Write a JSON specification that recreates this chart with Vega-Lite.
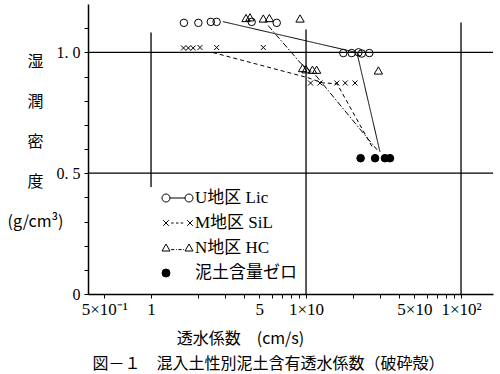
{
  "$schema": "https://vega.github.io/schema/vega-lite/v6.json",
  "width": 405,
  "height": 290,
  "autosize": {"type": "none"},
  "padding": {"left": 88, "top": 4, "right": 7, "bottom": 80},
  "background": "white",
  "title": {
    "text": "図－１　混入土性別泥土含有透水係数（破砕殻）",
    "orient": "bottom",
    "anchor": "middle",
    "dx": -22,
    "offset": 10,
    "font": "Noto Sans CJK JP",
    "fontSize": 16,
    "fontWeight": "normal",
    "color": "black"
  },
  "config": {
    "view": {"stroke": null},
    "axis": {"domainColor": "black", "tickColor": "black", "labelColor": "black", "titleColor": "black", "domainWidth": 1.5, "tickWidth": 1, "labelOverlap": false}
  },
  "resolve": {"axis": {"y": "independent"}},
  "datasets": {
    "pts": [
      {"k": 1.63, "d": 1.122, "s": "U地区 Lic"},
      {"k": 2.02, "d": 1.122, "s": "U地区 Lic"},
      {"k": 2.43, "d": 1.126, "s": "U地区 Lic"},
      {"k": 2.65, "d": 1.126, "s": "U地区 Lic"},
      {"k": 4.46, "d": 1.126, "s": "U地区 Lic"},
      {"k": 6.47, "d": 1.122, "s": "U地区 Lic"},
      {"k": 17.4, "d": 0.997, "s": "U地区 Lic"},
      {"k": 19.7, "d": 0.997, "s": "U地区 Lic"},
      {"k": 21.8, "d": 1.0, "s": "U地区 Lic"},
      {"k": 22.9, "d": 0.995, "s": "U地区 Lic"},
      {"k": 25.6, "d": 0.997, "s": "U地区 Lic"},
      {"k": 1.62, "d": 1.018, "s": "M地区 SiL"},
      {"k": 1.74, "d": 1.018, "s": "M地区 SiL"},
      {"k": 1.87, "d": 1.018, "s": "M地区 SiL"},
      {"k": 2.07, "d": 1.02, "s": "M地区 SiL"},
      {"k": 2.65, "d": 1.02, "s": "M地区 SiL"},
      {"k": 5.3, "d": 1.02, "s": "M地区 SiL"},
      {"k": 10.7, "d": 0.873, "s": "M地区 SiL"},
      {"k": 12.3, "d": 0.873, "s": "M地区 SiL"},
      {"k": 15.8, "d": 0.873, "s": "M地区 SiL"},
      {"k": 17.9, "d": 0.873, "s": "M地区 SiL"},
      {"k": 20.7, "d": 0.873, "s": "M地区 SiL"},
      {"k": 4.1, "d": 1.142, "s": "N地区 HC"},
      {"k": 4.35, "d": 1.145, "s": "N地区 HC"},
      {"k": 5.3, "d": 1.14, "s": "N地区 HC"},
      {"k": 5.8, "d": 1.142, "s": "N地区 HC"},
      {"k": 9.15, "d": 1.14, "s": "N地区 HC"},
      {"k": 9.5, "d": 0.935, "s": "N地区 HC"},
      {"k": 10.0, "d": 0.93, "s": "N地区 HC"},
      {"k": 11.0, "d": 0.928, "s": "N地区 HC"},
      {"k": 11.7, "d": 0.928, "s": "N地区 HC"},
      {"k": 29.3, "d": 0.925, "s": "N地区 HC"},
      {"k": 22.5, "d": 0.562, "s": "泥土含量ゼロ"},
      {"k": 27.9, "d": 0.562, "s": "泥土含量ゼロ"},
      {"k": 32.3, "d": 0.562, "s": "泥土含量ゼロ"},
      {"k": 34.8, "d": 0.562, "s": "泥土含量ゼロ"}
    ],
    "lines": [
      {"k": 2.91, "d": 1.127, "s": "U地区 Lic", "o": 1},
      {"k": 21.3, "d": 0.999, "s": "U地区 Lic", "o": 2},
      {"k": 30.0, "d": 0.588, "s": "U地区 Lic", "o": 3},
      {"k": 2.51, "d": 0.999, "s": "M地区 SiL", "o": 1},
      {"k": 10.3, "d": 0.895, "s": "M地区 SiL", "o": 2},
      {"k": 12.7, "d": 0.874, "s": "M地区 SiL", "o": 3},
      {"k": 15.85, "d": 0.87, "s": "M地区 SiL", "o": 4},
      {"k": 26.7, "d": 0.609, "s": "M地区 SiL", "o": 5},
      {"k": 5.69, "d": 1.111, "s": "N地区 HC", "o": 1},
      {"k": 9.29, "d": 0.953, "s": "N地区 HC", "o": 2},
      {"k": 11.43, "d": 0.908, "s": "N地区 HC", "o": 3},
      {"k": 28.7, "d": 0.597, "s": "N地区 HC", "o": 4}
    ],
    "hgrid": [{"d": 0.5}, {"d": 1.0}],
    "vgrid": [
      {"k": 1, "lo": 0.443, "hi": 1.082},
      {"k": 10, "lo": 0, "hi": 1.094},
      {"k": 100, "lo": 0, "hi": 1.123}
    ]
  },
  "layer": [
    {
      "data": {"name": "hgrid"},
      "mark": {"type": "rule", "stroke": "black", "strokeWidth": 1.3},
      "encoding": {
        "y": {"field": "d", "type": "quantitative", "scale": {"domain": [0, 1.2], "nice": false, "zero": false},
          "axis": {
            "orient": "left",
            "values": [0, 0.5, 1.0],
            "labelExpr": "abs(datum.value) < 0.01 ? '0' : abs(datum.value - 0.5) < 0.01 ? '0. 5' : '1. 0'",
            "labelFont": "Liberation Serif",
            "labelFontSize": 16,
            "labelPadding": 4,
            "tickSize": 4,
            "grid": false,
            "labelOverlap": false,
            "title": ["湿", "潤", "密", "度", "(g/cm³)"],
            "titleFont": "Noto Sans CJK JP",
            "titleFontSize": 16,
            "titleFontWeight": "normal",
            "titleAngle": 0,
            "titleAlign": "center",
            "titleBaseline": "top",
            "titleX": -53,
            "titleY": 49,
            "titleLineHeight": 40
          }
        }
      }
    },
    {
      "data": {"name": "vgrid"},
      "mark": {"type": "rule", "stroke": "black", "strokeWidth": 1.3},
      "encoding": {
        "x": {"field": "k", "type": "quantitative", "scale": {"type": "log", "domain": [0.392, 160.8], "nice": false},
          "axis": {
            "values": [0.5, 1, 2, 3, 4, 5, 6, 7, 8, 9, 10, 20, 30, 40, 50, 60, 70, 80, 90, 100],
            "labelExpr": "datum.value == 0.5 ? '5×10⁻¹' : datum.value == 1 ? '1' : datum.value == 5 ? '5' : datum.value == 10 ? '1×10' : datum.value == 50 ? '5×10' : datum.value == 100 ? '1×10²' : ''",
            "labelFont": "Liberation Serif",
            "labelFontSize": 17,
            "labelPadding": 3,
            "tickSize": 4,
            "grid": false,
            "labelOverlap": false,
            "labelBound": false,
            "labelFlush": false,
            "title": "透水係数　(cm/s)",
            "titleFont": "Noto Sans CJK JP",
            "titleFontSize": 16,
            "titleFontWeight": "normal",
            "titleAlign": "center",
            "titleBaseline": "middle",
            "titleX": 152,
            "titleY": 44
          }
        },
        "y": {"field": "lo", "type": "quantitative",
          "axis": {
            "orient": "left",
            "values": [0.1, 0.2, 0.3, 0.4, 0.6, 0.7, 0.8, 0.9, 1.1],
            "labels": false,
            "domain": false,
            "grid": false,
            "tickSize": 4,
            "title": null
          }
        },
        "y2": {"field": "hi"}
      }
    },
    {
      "data": {"name": "lines"},
      "mark": {"type": "line", "stroke": "black", "strokeWidth": 1},
      "encoding": {
        "x": {"field": "k", "type": "quantitative"},
        "y": {"field": "d", "type": "quantitative", "axis": null},
        "order": {"field": "o"},
        "detail": {"field": "s", "type": "nominal"},
        "strokeDash": {
          "condition": [
            {"test": "datum.s === 'M地区 SiL'", "value": [4, 3]},
            {"test": "datum.s === 'N地区 HC'", "value": [6, 2, 1.5, 2]}
          ],
          "value": [1, 0]
        }
      }
    },
    {
      "data": {"name": "pts"},
      "mark": {"type": "point", "stroke": "black", "strokeWidth": 1, "opacity": 1, "filled": false},
      "encoding": {
        "x": {"field": "k", "type": "quantitative"},
        "y": {"field": "d", "type": "quantitative", "axis": null},
        "shape": {
          "condition": [
            {"test": "datum.s === 'M地区 SiL'", "value": "M-1,-1L1,1M1,-1L-1,1"},
            {"test": "datum.s === 'N地区 HC'", "value": "triangle-up"}
          ],
          "value": "circle"
        },
        "size": {
          "condition": [
            {"test": "datum.s === 'M地区 SiL'", "value": 25},
            {"test": "datum.s === 'N地区 HC'", "value": 70},
            {"test": "datum.s === '泥土含量ゼロ'", "value": 58}
          ],
          "value": 56
        },
        "fill": {
          "condition": {"test": "datum.s === '泥土含量ゼロ'", "value": "black"},
          "value": "transparent"
        }
      }
    },
    {
      "data": {"name": "pts"},
      "mark": {"type": "point", "strokeWidth": 1, "opacity": 0, "size": 64, "filled": false},
      "encoding": {
        "x": {"field": "k", "type": "quantitative"},
        "y": {"field": "d", "type": "quantitative", "axis": null},
        "shape": {"field": "s", "type": "nominal",
          "scale": {"domain": ["U地区 Lic", "M地区 SiL", "N地区 HC", "泥土含量ゼロ"],
            "range": [
              "M-1,0A1,1 0 1,1 1,0A1,1 0 1,1 -1,0ZM1,0L4.75,0M4.75,0A1,1 0 1,1 6.75,0A1,1 0 1,1 4.75,0Z",
              "M-0.7,-0.7L0.7,0.7M0.7,-0.7L-0.7,0.7M1.3,0L1.9,0M2.5,0L3.1,0M3.7,0L4.3,0M5.3,-0.7L6.7,0.7M6.7,-0.7L5.3,0.7",
              "M0,-1L1,0.75L-1,0.75ZM1.3,0.4L2.1,0.4M2.5,0.4L2.7,0.4M3.1,0.4L3.9,0.4M4.3,0.4L4.5,0.4M5.75,-1L6.75,0.75L4.75,0.75Z",
              "circle"
            ]},
          "legend": {
            "orient": "none",
            "legendX": 69.5,
            "legendY": 185.5,
            "padding": 0,
            "title": null,
            "labelFont": "Liberation Serif, Noto Sans CJK JP",
            "labelFontSize": 17,
            "labelColor": "black",
            "labelOffset": 20.5,
            "rowPadding": 7,
            "symbolSize": 64,
            "symbolStrokeWidth": 1,
            "symbolStrokeColor": "black",
            "symbolOpacity": 1
          }
        },
        "fill": {"field": "s", "type": "nominal",
          "scale": {"domain": ["U地区 Lic", "M地区 SiL", "N地区 HC", "泥土含量ゼロ"], "range": ["transparent", "transparent", "transparent", "black"]}},
        "stroke": {"field": "s", "type": "nominal",
          "scale": {"domain": ["U地区 Lic", "M地区 SiL", "N地区 HC", "泥土含量ゼロ"], "range": ["black", "black", "black", "black"]}}
      }
    }
  ]
}
